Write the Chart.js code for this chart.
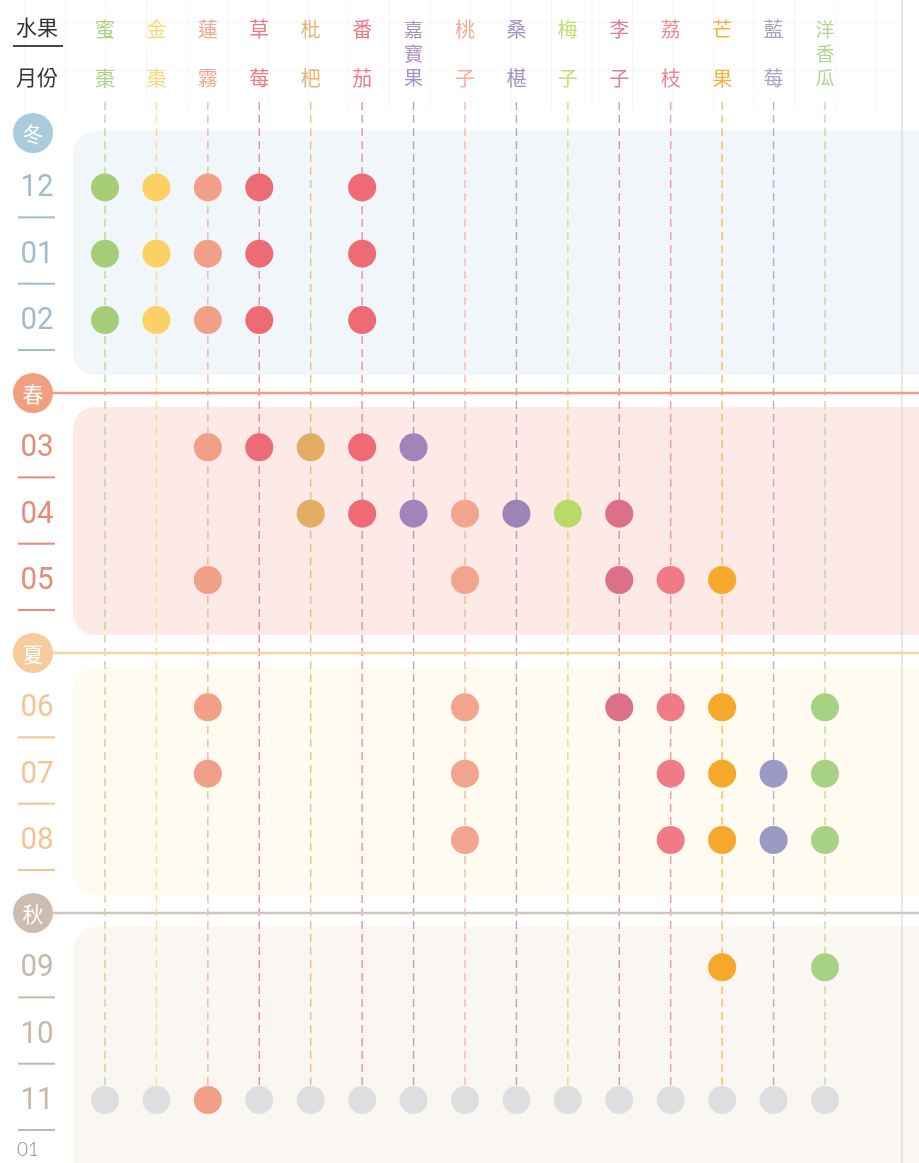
<!DOCTYPE html>
<html>
<head>
<meta charset="utf-8">
<script src="https://cdn.jsdelivr.net/npm/chart.js@4/dist/chart.umd.min.js"></script>
<style>
  html, body { margin: 0; padding: 0; background: #fff; }
  canvas { display: block; }
</style>
</head>
<body>
<canvas id="chart" width="919" height="1163"></canvas>
<script>
// fruit names, one char per line
const fruits = [
  ['蜜','棗'], ['金','棗'], ['蓮','霧'], ['草','莓'], ['枇','杷'], ['番','茄'],
  ['嘉','寶','果'], ['桃','子'], ['桑','椹'], ['梅','子'], ['李','子'],
  ['荔','枝'], ['芒','果'], ['藍','莓'], ['洋','香','瓜']
];
const fruitColors = [
  '#a5cd78', '#fdd065', '#f29f87', '#ec6b74', '#e3ad64', '#ee6a75',
  '#a284bb', '#f3a48c', '#9d84b8', '#b9da64', '#dc7086',
  '#f17a87', '#f6a82a', '#9b9ac6', '#a8d283'
];
// rows top to bottom: a season header then its three months
const rows = ['冬','12','01','02','春','03','04','05','夏','06','07','08','秋','09','10','11'];
const seasons = ['冬','春','夏','秋'];
const seasonColors = ['#a9cbdc', '#f0a07f', '#f8cb9c', '#cdbdaf'];
const monthColors = ['#a3bccd', '#e68c76', '#f4c592', '#c6b9ab'];
const panelColors = ['#f1f6fa', '#fde9e5', '#fffbf0', '#faf6f2'];
const lineColors = [null, '#f0a080', '#f8d2a6', '#d3c7bc'];

// months in season for each fruit
const harvest = [
  ['12','01','02'],
  ['12','01','02'],
  ['12','01','02','03','05','06','07','11'],
  ['12','01','02','03'],
  ['03','04'],
  ['12','01','02','03','04'],
  ['03','04'],
  ['04','05','06','07','08'],
  ['04'],
  ['04'],
  ['04','05','06'],
  ['05','06','07','08'],
  ['05','06','07','08','09'],
  ['07','08'],
  ['06','07','08','09']
];
const endMonth = '11';
const greyDot = '#dcdee0';

// row value on the y scale: headers sit a little closer to their months
const rowVal = [];
rows.forEach((r, i) => {
  if (i === 0) { rowVal.push(0); return; }
  const prev = rows[i - 1];
  const gap = seasons.includes(prev) ? 0.82 : (seasons.includes(r) ? 1.1 : 1);
  rowVal.push(rowVal[i - 1] + gap);
});
const yOf = m => rowVal[rows.indexOf(m)];

const datasets = fruits.map((f, i) => ({
  label: f.join(''),
  data: harvest[i].map(m => ({ x: i, y: yOf(m) })),
  backgroundColor: fruitColors[i],
  pointRadius: 14,
  pointHoverRadius: 14,
  borderWidth: 0,
  clip: false
}));
datasets.push({
  label: 'end',
  data: fruits.map((f, i) => i).filter(i => !harvest[i].includes(endMonth))
    .map(i => ({ x: i, y: yOf(endMonth) })),
  backgroundColor: greyDot,
  pointRadius: 14,
  pointHoverRadius: 14,
  borderWidth: 0,
  clip: false
});

const CJK = '"Noto Sans CJK TC", "Noto Sans CJK SC", sans-serif';

const decor = {
  id: 'decor',
  beforeDatasetsDraw(chart) {
    const ctx = chart.ctx;
    const xs = chart.scales.x, ys = chart.scales.y;
    const W = chart.width, H = chart.height;
    ctx.save();

    // faint grid behind header
    ctx.strokeStyle = 'rgba(0,0,0,0.04)';
    ctx.lineWidth = 1;
    for (let x = 25; x < 900; x += 40.5) {
      ctx.beginPath(); ctx.moveTo(x, 0); ctx.lineTo(x, 110); ctx.stroke();
    }
    [22, 70].forEach(y => {
      ctx.beginPath(); ctx.moveTo(60, y); ctx.lineTo(900, y); ctx.stroke();
    });

    // season panels
    seasons.forEach((s, k) => {
      const hy = ys.getPixelForValue(yOf(s));
      const top = k === 0 ? hy - 2 : hy + 14;
      const bot = k < 3 ? ys.getPixelForValue(yOf(seasons[k + 1])) - 18 : H + 30;
      ctx.fillStyle = panelColors[k];
      ctx.beginPath();
      ctx.roundRect(73, top, W, bot - top, 22);
      ctx.fill();
    });

    // right border line
    ctx.strokeStyle = '#d9d9d9';
    ctx.lineWidth = 1.2;
    ctx.beginPath(); ctx.moveTo(902, 0); ctx.lineTo(902, H); ctx.stroke();

    // dashed stems
    ctx.setLineDash([8, 5]);
    ctx.lineWidth = 1.4;
    fruits.forEach((f, i) => {
      const x = xs.getPixelForValue(i);
      ctx.strokeStyle = fruitColors[i];
      ctx.globalAlpha = 0.75;
      ctx.beginPath();
      ctx.moveTo(x, 102);
      ctx.lineTo(x, ys.getPixelForValue(yOf(endMonth)));
      ctx.stroke();
    });
    ctx.globalAlpha = 1;
    ctx.setLineDash([]);

    // season lines and circles
    seasons.forEach((s, k) => {
      const y = ys.getPixelForValue(yOf(s));
      if (lineColors[k]) {
        ctx.strokeStyle = lineColors[k];
        ctx.lineWidth = 2.5;
        ctx.beginPath(); ctx.moveTo(40, y); ctx.lineTo(W, y); ctx.stroke();
      }
      ctx.fillStyle = seasonColors[k];
      ctx.beginPath(); ctx.arc(33, y, 20, 0, Math.PI * 2); ctx.fill();
      ctx.fillStyle = '#fff';
      ctx.font = '21px ' + CJK;
      ctx.textAlign = 'center';
      ctx.textBaseline = 'middle';
      ctx.fillText(s, 33, y + 1);
    });

    // month labels
    rows.forEach((r, idx) => {
      if (seasons.includes(r)) return;
      const k = Math.floor(idx / 4);
      const y = ys.getPixelForValue(rowVal[idx]);
      ctx.fillStyle = monthColors[k];
      ctx.save();
      ctx.translate(37, y + 1);
      ctx.scale(0.92, 1);
      ctx.font = '32px Roboto, sans-serif';
      ctx.textAlign = 'center';
      ctx.textBaseline = 'middle';
      ctx.fillText(r, 0, 0);
      ctx.restore();
      ctx.fillRect(18, y + 29, 37, 2);
    });

    // header
    ctx.fillStyle = '#333';
    ctx.font = '21px ' + CJK;
    ctx.textAlign = 'center';
    ctx.textBaseline = 'middle';
    ctx.fillText('水果', 37, 27);
    ctx.fillText('月份', 37, 77);
    ctx.fillStyle = '#444';
    ctx.fillRect(13, 45, 50, 2);

    fruits.forEach((f, i) => {
      const x = xs.getPixelForValue(i);
      ctx.fillStyle = fruitColors[i];
      ctx.globalAlpha = 0.9;
      if (f.length === 2) {
        ctx.font = '20px ' + CJK;
        ctx.fillText(f[0], x, 29);
        ctx.fillText(f[1], x, 78);
      } else {
        ctx.font = '19px ' + CJK;
        f.forEach((c, j) => ctx.fillText(c, x, 30 + j * 24));
      }
    });
    ctx.globalAlpha = 1;

    // page number
    ctx.fillStyle = '#888';
    ctx.font = '300 19px Lato, sans-serif';
    ctx.textAlign = 'left';
    ctx.fillText('01', 17, 1150);

    ctx.restore();
  }
};

new Chart(document.getElementById('chart'), {
  type: 'scatter',
  data: { datasets },
  options: {
    responsive: false,
    animation: false,
    devicePixelRatio: 1,
    layout: { padding: { left: 105, right: 94, top: 133, bottom: 63 } },
    scales: {
      x: { type: 'linear', min: 0, max: fruits.length - 1, display: false },
      y: { type: 'linear', min: 0, max: rowVal[rowVal.length - 1], reverse: true, display: false }
    },
    plugins: { legend: { display: false }, tooltip: { enabled: false } }
  },
  plugins: [decor]
});
</script>
</body>
</html>
